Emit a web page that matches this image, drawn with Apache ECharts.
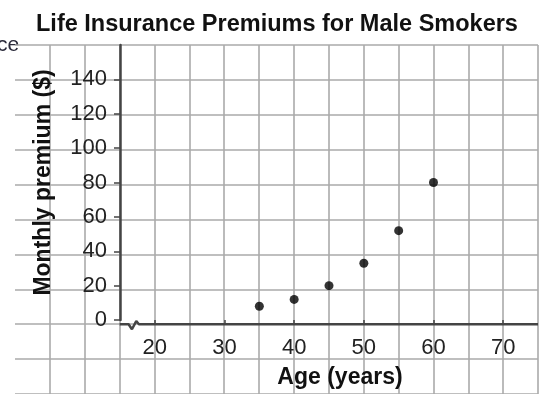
<!DOCTYPE html>
<html>
<head>
<meta charset="utf-8">
<script src="https://cdn.jsdelivr.net/npm/echarts@6/dist/echarts.min.js"></script>
<style>
  html, body { margin: 0; padding: 0; background: #fff; }
  #chart { width: 539px; height: 394px; }
</style>
</head>
<body>
<div id="chart"></div>
<script>
// data
const ages = [35, 40, 45, 50, 55, 60]
const premiums = [8, 12, 20, 33, 52, 80]
const xTicks = [20, 30, 40, 50, 60, 70]
const yTicks = [0, 20, 40, 60, 80, 100, 120, 140]
// x axis drawn as a line with a small break mark near the origin
const axisBreak = [[15, 0], [16.29, 0], [16.77, -2.9], [17.39, 1.8], [17.77, 0], [75, 0]]

const font = "'Liberation Sans', Arial, sans-serif"
const chart = echarts.init(document.getElementById('chart'))

const gridStyle = { color: '#aaaaaa', width: 1.6 }

const option = {
  animation: false,
  title: {
    text: 'Life Insurance Premiums for Male Smokers',
    left: 31,
    top: 8,
    textStyle: { fontFamily: font, fontSize: 23.5, fontWeight: 'bold', color: '#111' }
  },
  graphic: [{
    type: 'text', left: -3, top: 35,
    style: { text: 'ce', font: '21px ' + font, fill: '#2a2a3a' }
  }],
  grid: [
    { left: 15, top: 45, width: 523, height: 350 },
    { left: 120, top: 45, width: 418, height: 280 }
  ],
  xAxis: [
    {
      gridIndex: 0, type: 'value', min: 0, max: 75, interval: 5,
      axisLine: { show: false }, axisTick: { show: false }, axisLabel: { show: false },
      splitLine: { show: true, showMinLine: false, lineStyle: gridStyle }
    },
    {
      gridIndex: 1, type: 'value', min: 15, max: 75,
      name: 'Age (years)', nameLocation: 'middle', nameGap: 46,
      nameTextStyle: { fontFamily: font, fontSize: 23, fontWeight: 'bold', color: '#111', padding: [0, 0, 0, 22] },
      axisLine: { show: false },
      axisTick: { show: true, customValues: xTicks, length: 5, lineStyle: { color: '#444', width: 1.5 } },
      axisLabel: { customValues: xTicks, margin: 17, fontFamily: font, fontSize: 22, color: '#222' },
      splitLine: { show: false }
    }
  ],
  yAxis: [
    {
      gridIndex: 0, type: 'value', min: -40, max: 160, interval: 20,
      axisLine: { show: false }, axisTick: { show: false }, axisLabel: { show: false },
      splitLine: { show: true, lineStyle: gridStyle }
    },
    {
      gridIndex: 1, type: 'value', min: 0, max: 160, interval: 20,
      name: 'Monthly premium ($)', nameLocation: 'middle', nameGap: 65,
      nameTextStyle: { fontFamily: font, fontSize: 23, fontWeight: 'bold', color: '#111' },
      axisLine: { show: true, lineStyle: { color: '#444', width: 2.5 } },
      axisTick: { show: true, customValues: yTicks, length: 6, lineStyle: { color: '#444', width: 1.5 } },
      axisLabel: { customValues: yTicks, margin: 13, fontFamily: font, fontSize: 22, color: '#222' },
      splitLine: { show: false }
    }
  ],
  series: [
    {
      type: 'line',
      xAxisIndex: 0, yAxisIndex: 0,
      data: axisBreak,
      showSymbol: false,
      lineStyle: { color: '#444', width: 2.5 },
      silent: true
    },
    {
      type: 'scatter',
      xAxisIndex: 1, yAxisIndex: 1,
      data: ages.map((a, i) => [a, premiums[i]]),
      symbolSize: 9,
      itemStyle: { color: '#000' }
    }
  ]
}

chart.setOption(option)
</script>
</body>
</html>
